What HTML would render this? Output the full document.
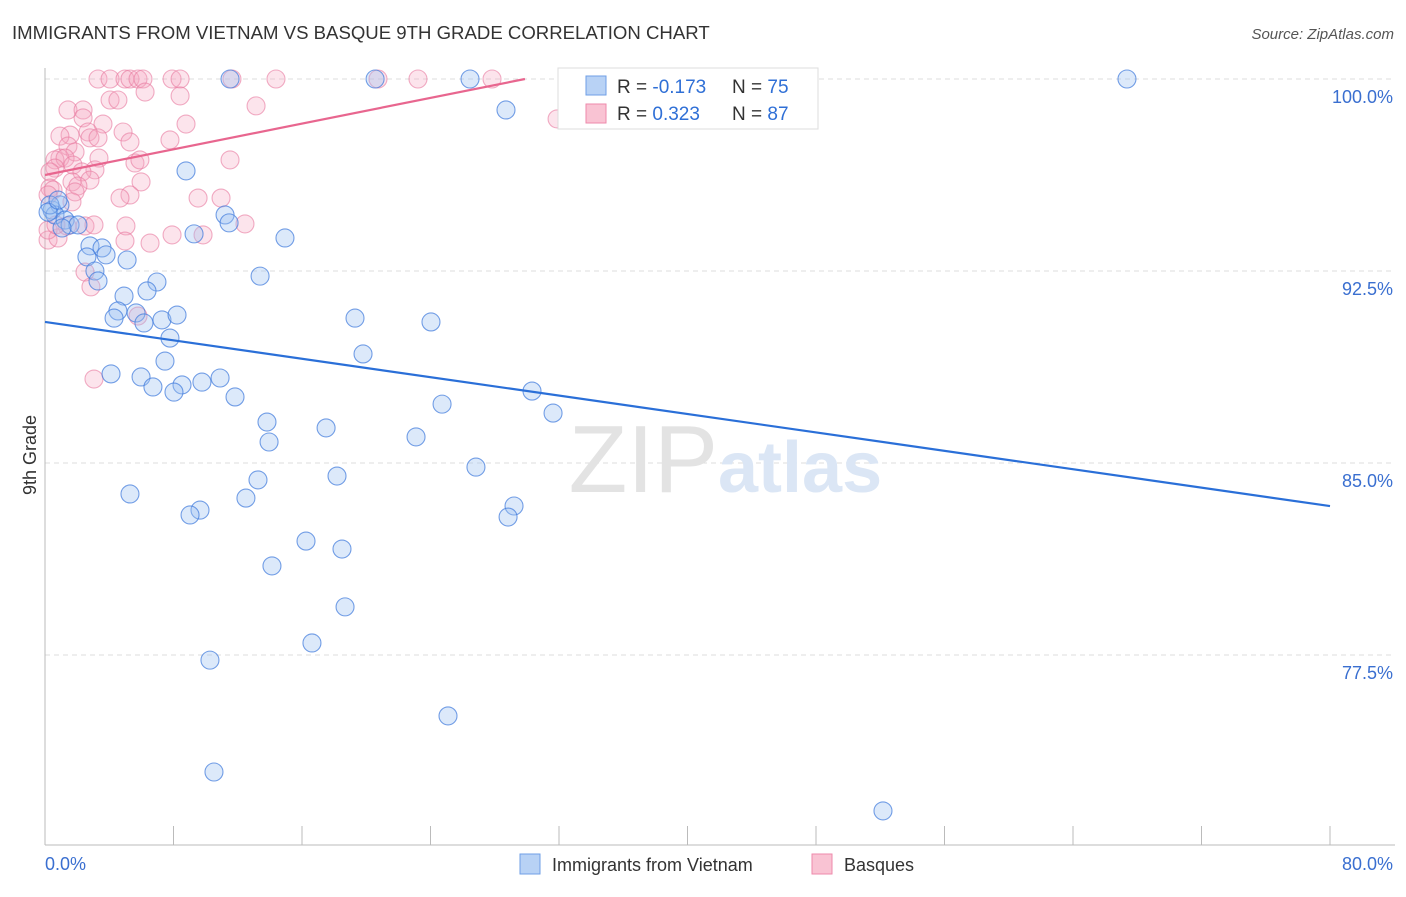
<!DOCTYPE html>
<html><head><meta charset="utf-8"><style>
body{margin:0;background:#fff;font-family:"Liberation Sans",sans-serif;}
svg text{font-family:"Liberation Sans",sans-serif;}
</style></head><body>
<svg id="chart" width="1406" height="892" xmlns="http://www.w3.org/2000/svg">
<text x="12" y="39" font-size="18.6" fill="#333">IMMIGRANTS FROM VIETNAM VS BASQUE 9TH GRADE CORRELATION CHART</text>
<text x="1394" y="39" font-size="15" fill="#555" font-style="italic" text-anchor="end">Source: ZipAtlas.com</text>
<g id="grid"></g>
<text x="718" y="492" font-size="96" fill="#e3e3e3" text-anchor="end" font-family="Liberation Serif">ZIP</text>
<text x="718" y="492" font-size="72" fill="#dbe6f5" font-weight="bold">atlas</text>
<g id="axes"></g>
<g id="pts"></g>
<g id="trends"></g>
<text x="36" y="455" font-size="18" fill="#333" text-anchor="middle" transform="rotate(-90 36 455)">9th Grade</text>
<g>
<rect x="558" y="68" width="260" height="61" fill="#fff" stroke="#ddd"/>
<rect x="586" y="76" width="20" height="19" fill="#b8d2f5" stroke="#6f9fe6"/>
<rect x="586" y="104" width="20" height="19" fill="#f9c3d3" stroke="#ee8aab"/>
<text x="617" y="93" font-size="19" fill="#333">R = <tspan fill="#2f6fd6">-0.173</tspan></text>
<text x="732" y="93" font-size="19" fill="#333">N = <tspan fill="#2f6fd6">75</tspan></text>
<text x="617" y="120" font-size="19" fill="#333">R =  <tspan fill="#2f6fd6">0.323</tspan></text>
<text x="732" y="120" font-size="19" fill="#333">N = <tspan fill="#2f6fd6">87</tspan></text>
</g>
<g>
<rect x="520" y="854" width="20" height="20" fill="#b8d2f5" stroke="#6f9fe6"/>
<text x="552" y="871" font-size="18" fill="#333">Immigrants from Vietnam</text>
<rect x="812" y="854" width="20" height="20" fill="#f9c3d3" stroke="#ee8aab"/>
<text x="844" y="871" font-size="18" fill="#333">Basques</text>
</g>
</svg>
<script>
const yTicks=[100,92.5,85,77.5];
const yTickLabels=["100.0%","92.5%","85.0%","77.5%"];
const xTickLabels=["0.0%","80.0%"];
const blueX=[11.52,20.55,26.46,67.36,28.70,8.78,11.21,11.46,9.28,14.94,0.44,0.93,0.62,1.25,1.56,2.05,1.06,2.80,3.55,2.61,3.80,5.11,3.11,3.30,6.97,13.39,4.92,6.35,4.54,4.30,5.67,7.28,8.22,6.16,7.78,19.30,24.03,7.47,19.80,4.11,5.98,6.72,8.53,8.03,9.77,10.90,11.83,30.32,31.63,24.72,13.82,13.95,17.50,23.10,26.83,18.18,13.26,5.29,12.51,9.65,9.03,29.20,28.83,16.25,18.49,14.13,18.68,16.62,10.27,25.09,10.52,52.17,0.31,0.19,0.81];
const blueY=[100,100,100,100,98.79,96.41,94.69,94.38,93.95,93.79,94.88,95.08,94.69,94.49,94.30,94.30,94.18,93.48,93.40,93.05,93.13,92.93,92.50,92.11,92.07,92.30,91.52,91.72,90.94,90.66,90.86,90.59,90.78,90.47,89.88,90.66,90.51,88.98,89.26,88.48,88.36,87.97,88.05,87.77,88.16,88.32,87.58,87.81,86.95,87.30,86.60,85.82,86.37,86.02,84.84,84.49,84.34,83.79,83.63,83.16,82.97,83.32,82.89,81.95,81.64,80.98,79.38,77.97,77.30,75.12,72.93,71.41,95.08,94.80,95.27];
const pinkX=[3.30,4.05,4.98,5.29,5.79,6.10,7.91,8.41,11.64,14.38,20.73,23.22,27.83,33.18,6.23,4.05,4.54,8.41,13.14,31.88,1.43,2.37,2.37,3.61,8.78,4.86,1.56,0.93,2.68,2.80,3.30,7.78,5.29,1.43,1.87,0.93,0.62,1.25,3.36,11.52,5.60,1.74,5.91,3.11,0.62,2.30,0.31,5.98,2.80,1.68,2.05,0.31,0.50,1.87,5.29,0.19,4.67,9.53,10.96,1.68,2.49,1.37,3.05,5.04,12.45,4.98,6.54,7.91,9.84,0.19,0.81,2.49,2.86,5.79,3.05,0.19,0.68];
const pinkY=[100,100,100,100,100,100,100,100,100,100,100,100,100,100,99.49,99.18,99.18,99.34,98.95,98.44,98.79,98.79,98.48,98.24,98.24,97.93,97.81,97.77,97.93,97.70,97.70,97.62,97.54,97.38,97.15,96.91,96.84,96.91,96.91,96.84,96.72,96.64,96.84,96.45,96.52,96.37,96.37,95.98,96.05,95.98,95.82,95.74,95.66,95.59,95.47,95.47,95.35,95.35,95.35,95.20,94.26,94.26,94.30,94.26,94.34,93.67,93.59,93.91,93.91,93.71,93.79,92.46,91.88,90.74,88.28,94.10,94.30];
const blueTrend=[90.51,-0.0899];
const pinkTrend=[96.25,0.1255];
const NS="http://www.w3.org/2000/svg";
const X0=45,X1=1330,Y0=79,PXPER=25.6;
const sx=v=>X0+(v/80)*(X1-X0);
const sy=v=>Y0+(100-v)*PXPER;
function mk(tag,attrs,parent){const e=document.createElementNS(NS,tag);for(const k in attrs)e.setAttribute(k,attrs[k]);parent.appendChild(e);return e;}
const grid=document.getElementById('grid'),axes=document.getElementById('axes'),pts=document.getElementById('pts'),tr=document.getElementById('trends');
yTicks.forEach((t,i)=>{
 const l=mk('line',{x1:45,x2:1395,y1:sy(t),y2:sy(t),stroke:'#ddd','stroke-dasharray':'5,4'},grid);
 
 
 const tx=mk('text',{x:1393,y:sy(t)+24,'font-size':18,fill:'#3a6fd0','text-anchor':'end'},grid);
 tx.textContent=yTickLabels[i];
 
 
});
const ya=mk('line',{x1:45,x2:45,y1:68,y2:845,stroke:'#bbb'},axes);


const xa=mk('line',{x1:45,x2:1395,y1:845,y2:845,stroke:'#bbb'},axes);


for(let i=0;i<=10;i++){const t=mk('line',{x1:sx(i*8),x2:sx(i*8),y1:826,y2:845,stroke:'#bbb'},axes);
 
 }
const xl0=mk('text',{x:45,y:870,'font-size':18,fill:'#3a6fd0'},axes);xl0.textContent=xTickLabels[0];


const xl1=mk('text',{x:1393,y:870,'font-size':18,fill:'#3a6fd0','text-anchor':'end'},axes);xl1.textContent=xTickLabels[1];


pinkX.forEach((v,i)=>{const c=mk('circle',{cx:sx(v),cy:sy(pinkY[i]),r:9,fill:'rgba(245,165,192,0.3)',stroke:'rgba(232,120,158,0.6)','stroke-width':1.1},pts);
 
 });
blueX.forEach((v,i)=>{const c=mk('circle',{cx:sx(v),cy:sy(blueY[i]),r:9,fill:'rgba(155,192,240,0.35)',stroke:'rgba(60,120,220,0.7)','stroke-width':1.1},pts);
 
 });
const bl=mk('line',{x1:sx(0),y1:sy(blueTrend[0]),x2:sx(80),y2:sy(blueTrend[0]+blueTrend[1]*80),stroke:'#2a6fd8','stroke-width':2.2},tr);


const pxEnd=(100-pinkTrend[0])/pinkTrend[1];
const pl=mk('line',{x1:sx(0),y1:sy(pinkTrend[0]),x2:sx(pxEnd),y2:sy(100),stroke:'#e8668f','stroke-width':2.2},tr);


</script>
</body></html>
